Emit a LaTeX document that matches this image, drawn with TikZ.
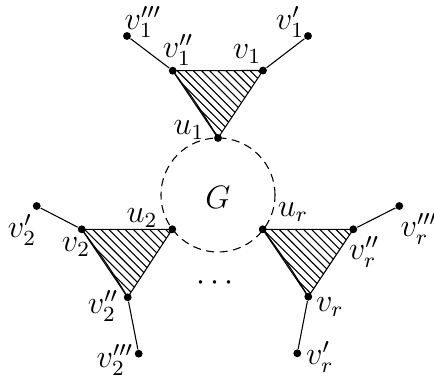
\documentclass[tikz,border=0pt]{standalone}
\usetikzlibrary{patterns,backgrounds}
\begin{document}
\begin{tikzpicture}[x=0.37pt,y=-0.37pt,
  vtx/.style={circle,fill,inner sep=0pt,minimum size=2.9pt},
  lbl/.style={inner sep=0pt,font=\large},
  tri/.style={draw,pattern=north west lines},
  ring/.style={draw,dash pattern=on 3pt off 2pt,circle,inner sep=0pt,minimum size=42.2pt}
]
\useasboundingbox (0,0) rectangle (434,380);
% graph G
\node[ring] (ring) at (218,195) {};
\node[lbl] (G) at (218,197) {$G$};
\node[lbl] (dots) at (215,283) {$\cdots$};
% top gadget
\node[vtx] (v1ppp) at (127,36) {};
\node[vtx] (v1p) at (308,36) {};
\node[vtx] (v1pp) at (172.7,70.7) {};
\node[vtx] (v1) at (263,70.5) {};
\node[vtx] (u1) at (218,138) {};
% left gadget
\node[vtx] (v2p) at (36.7,206) {};
\node[vtx] (v2) at (81.7,229.3) {};
\node[vtx] (u2) at (172.3,229.3) {};
\node[vtx] (v2pp) at (127.7,297.3) {};
\node[vtx] (v2ppp) at (138.7,353.7) {};
% right gadget
\node[vtx] (ur) at (262.7,229.3) {};
\node[vtx] (vrpp) at (353.3,229.3) {};
\node[vtx] (vrppp) at (399.3,206) {};
\node[vtx] (vr) at (308.3,296.7) {};
\node[vtx] (vrp) at (297.3,353.3) {};
\begin{scope}[on background layer]
  \filldraw[tri] (v1pp.center) -- (v1.center) -- (u1.center) -- cycle;
  \filldraw[tri] (v2.center) -- (u2.center) -- (v2pp.center) -- cycle;
  \filldraw[tri] (ur.center) -- (vrpp.center) -- (vr.center) -- cycle;
  \draw (v1pp.center) to[bend left=3] (u1.center);
  \draw (v2.center) to[bend left=3] (v2pp.center);
  \draw (ur.center) to[bend left=3] (vr.center);
  \draw (v1pp) -- (v1ppp);
  \draw (v1) -- (v1p);
  \draw (v2) -- (v2p);
  \draw (v2pp) -- (v2ppp);
  \draw (vrpp) -- (vrppp);
  \draw (vr) -- (vrp);
\end{scope}
% labels
\node[lbl] at (143,22) {$v_1'''$};
\node[lbl] at (290,22) {$v_1'$};
\node[lbl] at (178,50) {$v_1''$};
\node[lbl] at (247,54) {$v_1$};
\node[lbl] at (189,130) {$u_1$};
\node[lbl] at (22,230) {$v_2'$};
\node[lbl] at (76,247) {$v_2$};
\node[lbl] at (142,218) {$u_2$};
\node[lbl] at (103,306) {$v_2''$};
\node[lbl] at (115,360) {$v_2'''$};
\node[lbl] at (293,212) {$u_r$};
\node[lbl] at (364,252) {$v_r''$};
\node[lbl] at (419,229) {$v_r'''$};
\node[lbl] at (330,307) {$v_r$};
\node[lbl] at (320,357) {$v_r'$};
\end{tikzpicture}
\end{document}
